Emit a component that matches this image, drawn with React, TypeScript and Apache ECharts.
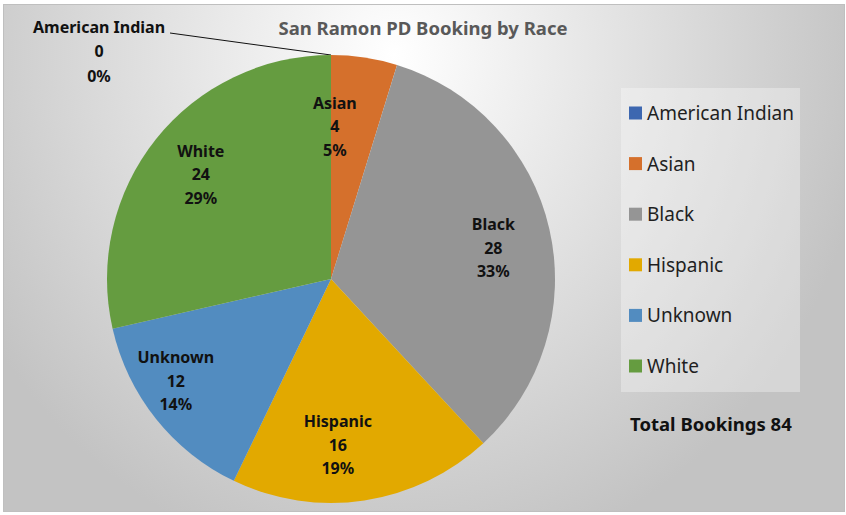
import React, { useEffect, useRef } from "react";
import * as echarts from "echarts";

const titleText = "San Ramon PD Booking by Race";
const categories = ["American Indian", "Asian", "Black", "Hispanic", "Unknown", "White"];
const bookings = [0, 4, 28, 16, 12, 24];
const sliceColors = ["#3D67B0", "#D5702C", "#959595", "#E2A900", "#528CC0", "#659C40"];
const totalLabel = "Total Bookings";

const FONT = "'Noto Sans', sans-serif";

export default function App() {
  const ref = useRef<HTMLDivElement>(null);

  useEffect(() => {
    if (!ref.current) return;
    const chart = echarts.init(ref.current, undefined, { renderer: "svg" });
    const total = bookings.reduce((a, b) => a + b, 0);
    const pct = (v: number) => Math.round((v / total) * 100) + "%";
    const cx = 331;
    const cy = 279;
    const R = 224;
    // small label nudges (Excel best-fit placement)
    const nudges: number[][] = [[0, 0], [-21, 12], [0, 6], [-18, 1], [-25, -2], [0, -1]];

    const mainData = categories.map((name, i) => ({
      name,
      value: bookings[i],
      itemStyle: { color: sliceColors[i] },
      label: i === 0 ? { show: true } : { show: false },
      labelLine: i === 0 ? { show: true } : { show: false },
    }));

    const labelData = categories.map((name, i) => ({
      name,
      value: bookings[i],
      label: { show: bookings[i] > 0 },
    }));

    chart.setOption({
      animation: false,
      backgroundColor: "transparent",
      title: {
        text: titleText,
        left: "center",
        top: 13,
        textStyle: { fontFamily: FONT, fontSize: 18.5, fontWeight: "bold", color: "#595959" },
      },
      legend: {
        orient: "vertical",
        left: 621,
        top: 88,
        data: categories,
        icon: "rect",
        itemWidth: 13,
        itemHeight: 13,
        itemGap: 30.6,
        padding: [15, 6, 16, 8],
        backgroundColor: "rgba(255,255,255,0.32)",
        selectedMode: false,
        textStyle: { fontFamily: FONT, fontSize: 19, color: "#1f1f1f", lineHeight: 20 },
      },
      graphic: [
        {
          type: "text",
          left: 630,
          top: 414,
          style: {
            text: `${totalLabel} ${total}`,
            font: `bold 18.5px ${FONT}`,
            fill: "#111",
          },
        },
      ],
      series: [
        {
          type: "pie",
          center: [cx, cy],
          radius: [0, R],
          startAngle: 90,
          clockwise: true,
          silent: true,
          data: mainData,
          label: {
            position: "outside",
            formatter: (p: any) => `${p.name}\n${p.value}\n${pct(p.value)}`,
            fontFamily: FONT,
            fontSize: 16,
            fontWeight: "bold",
            color: "#111",
            lineHeight: 24.5,
            align: "center",
          },
          labelLine: { lineStyle: { color: "#111", width: 1 } },
          labelLayout: (p: any) =>
            p.dataIndex === 0
              ? {
                  x: 99,
                  y: 51,
                  align: "center",
                  verticalAlign: "middle",
                  labelLinePoints: [
                    [170, 33],
                    [250, 44],
                    [cx, cy - R],
                  ],
                }
              : {},
          emphasis: { disabled: true },
        },
        {
          type: "pie",
          center: [cx, cy],
          radius: [R * 0.46, R],
          startAngle: 90,
          clockwise: true,
          silent: true,
          itemStyle: { color: "transparent" },
          data: labelData,
          label: {
            position: "inside",
            formatter: (p: any) => `${p.name}\n${p.value}\n${pct(p.value)}`,
            fontFamily: FONT,
            fontSize: 16,
            fontWeight: "bold",
            color: "#111",
            lineHeight: 23.5,
            align: "center",
          },
          labelLine: { show: false },
          labelLayout: (p: any) => ({ dx: nudges[p.dataIndex][0], dy: nudges[p.dataIndex][1] }),
          emphasis: { disabled: true },
        },
      ],
    });
    return () => chart.dispose();
  }, []);

  return (
    <div style={{ position: "absolute", left: 0, top: 0, width: 846, height: 515, background: "#fff" }}>
      <div
        style={{
          position: "absolute",
          left: 3,
          top: 4,
          width: 842,
          height: 508,
          boxSizing: "border-box",
          border: "1px solid #bfbfbf",
          background:
            "radial-gradient(ellipse 480px 520px at 390px 50px, #ffffff 0%, #c3c3c3 100%)",
        }}
      />
      <div ref={ref} style={{ position: "absolute", left: 0, top: 0, width: 846, height: 515 }} />
    </div>
  );
}
